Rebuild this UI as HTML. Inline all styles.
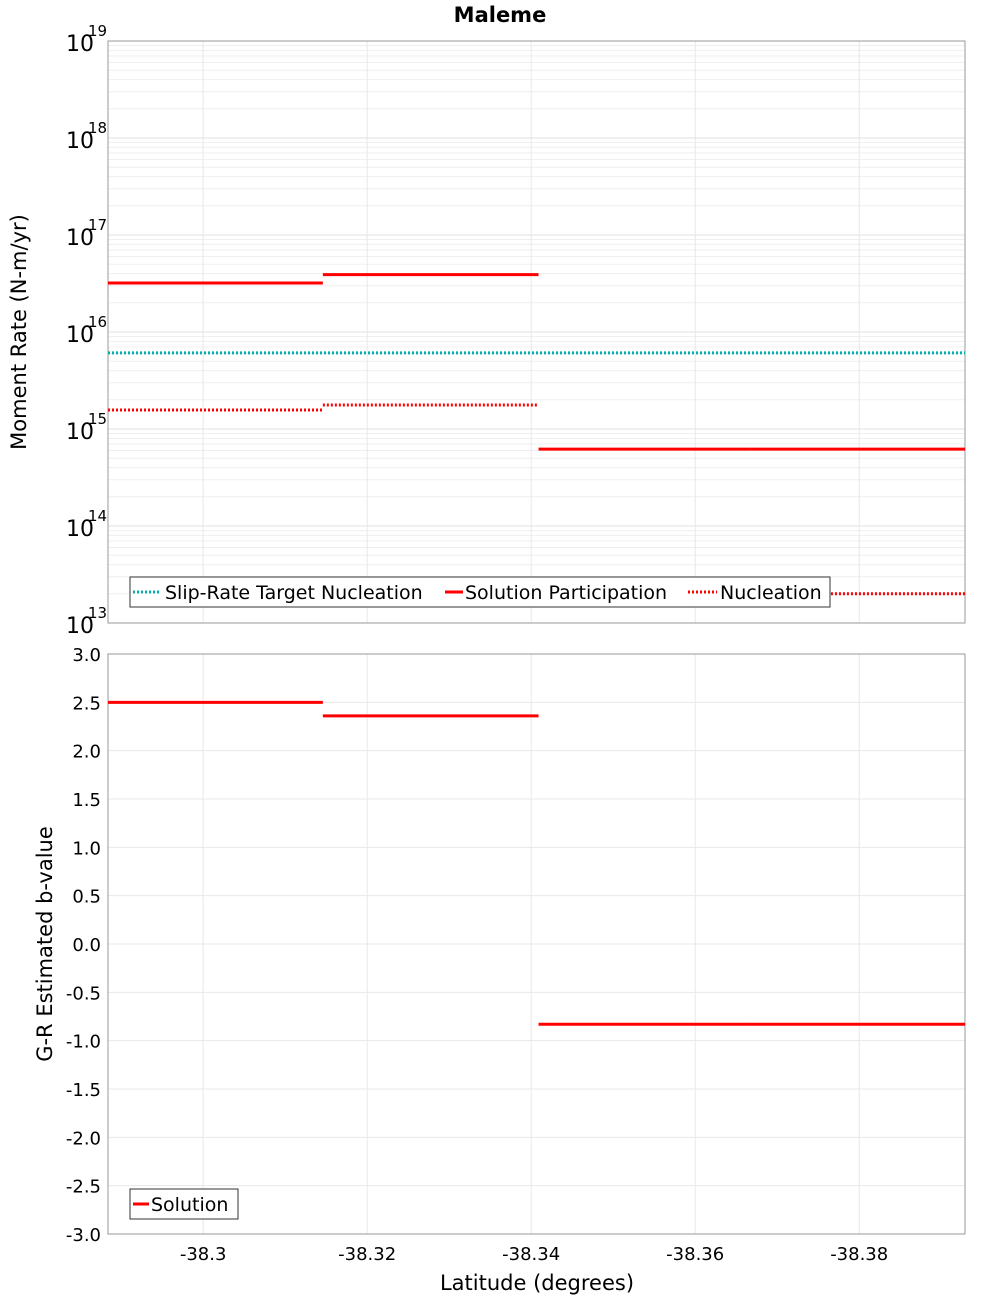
<!DOCTYPE html>
<html><head><meta charset="utf-8"><style>
body{margin:0;background:#fff;font-family:"Liberation Sans","DejaVu Sans",sans-serif}
svg text{font-family:"DejaVu Sans","Liberation Sans",sans-serif}
</style></head><body>
<svg id="c" width="1000" height="1300" xmlns="http://www.w3.org/2000/svg"></svg>
<script>
const segBounds = [-38.2884, -38.3146, -38.3409, -38.3668, -38.3929];
const partVals = [3.2e16, 3.9e16, 6.2e14, 6.2e14];
const nuclVals = [1.57e15, 1.77e15, 2.0e13, 2.0e13];
const targetVal = 6.1e15;
const bVals = [2.5, 2.36, -0.83, -0.83];
const xTicks = [-38.3, -38.32, -38.34, -38.36, -38.38];
const xTickLabels = ["-38.3", "-38.32", "-38.34", "-38.36", "-38.38"];
const bTicks = [3,2.5,2,1.5,1,0.5,0,-0.5,-1,-1.5,-2,-2.5,-3];
const logExps = [13,14,15,16,17,18,19];

const svg = document.getElementById('c');
const NS = 'http://www.w3.org/2000/svg';
function el(tag, attrs, parent){const e=document.createElementNS(NS,tag);for(const k in attrs)e.setAttribute(k,attrs[k]);(parent||svg).appendChild(e);return e;}
const L=108,R=965,T1=41,B1=623,T2=654,B2=1234;
const xMin=segBounds[0], xMax=segBounds[segBounds.length-1];
const X = v => L + (v - xMin)/(xMax - xMin)*(R-L);
const Y1 = v => B1 - (Math.log10(v)-13)/6*(B1-T1);
const Y2 = v => B2 - (v+3)/6*(B2-T2);

// title
let t=el('text',{x:500,y:22,'text-anchor':'middle','font-size':21,'font-weight':'bold'});t.textContent='Maleme';



// top plot grid
for(let e=13;e<19;e++){for(let m=1;m<10;m++){const y=Y1(m*Math.pow(10,e));
 const g=el('line',{x1:L,x2:R,y1:y,y2:y,stroke:m===1?'#e0e0e0':'#efefef','stroke-width':1});
 
 }}
xTicks.forEach(v=>{const g=el('line',{x1:X(v),x2:X(v),y1:T1,y2:B1,stroke:'#e8e8e8'});
 
 
 const g2=el('line',{x1:X(v),x2:X(v),y1:T2,y2:B2,stroke:'#e8e8e8'});
 
 });
bTicks.forEach(v=>{const g=el('line',{x1:L,x2:R,y1:Y2(v),y2:Y2(v),stroke:'#e8e8e8'});
 
 });

// frames
let f1=el('rect',{x:L,y:T1,width:R-L,height:B1-T1,fill:'none',stroke:'#999'});


let f2=el('rect',{x:L,y:T2,width:R-L,height:B2-T2,fill:'none',stroke:'#999'});



// top y ticks
logExps.forEach(e=>{const y=Y1(Math.pow(10,e));
 const tx=el('text',{x:66,y:y+10,'text-anchor':'start','font-size':22});tx.textContent='10';
 
 
 const s=el('text',{x:88,y:y-5,'font-size':15});s.textContent=String(e);
 
 });
let yt=el('text',{x:26,y:332,'text-anchor':'middle','font-size':21,transform:'rotate(-90 26 332)'});yt.textContent='Moment Rate (N-m/yr)';



// bottom y ticks
bTicks.forEach(v=>{const tx=el('text',{x:101,y:Y2(v)+7,'text-anchor':'end','font-size':18});tx.textContent=v.toFixed(1);
 
 });
let yt2=el('text',{x:52,y:944,'text-anchor':'middle','font-size':21,transform:'rotate(-90 52 944)'});yt2.textContent='G-R Estimated b-value';



// x ticks
xTicks.forEach((v,i)=>{const tx=el('text',{x:X(v),y:1260,'text-anchor':'middle','font-size':18});tx.textContent=xTickLabels[i];
 
 });
let xt=el('text',{x:537,y:1290,'text-anchor':'middle','font-size':21});xt.textContent='Latitude (degrees)';



// series
let tl=el('line',{x1:L,x2:R,y1:Y1(targetVal),y2:Y1(targetVal),stroke:'#00b0b0','stroke-width':3,'stroke-dasharray':'2 2'});


for(let i=0;i<partVals.length;i++){
 const x1=X(segBounds[i]),x2=X(segBounds[i+1]);
 const p=el('line',{x1:x1,x2:x2,y1:Y1(partVals[i]),y2:Y1(partVals[i]),stroke:'#f00','stroke-width':3});
 
 
 const n=el('line',{x1:x1,x2:x2,y1:Y1(nuclVals[i]),y2:Y1(nuclVals[i]),stroke:'#f00','stroke-width':3,'stroke-dasharray':'2 2'});
 
 
 const b=el('line',{x1:x1,x2:x2,y1:Y2(bVals[i]),y2:Y2(bVals[i]),stroke:'#f00','stroke-width':3});
 
 
}

// legends
let lg=el('g',{});


el('rect',{x:130,y:577,width:700,height:30,fill:'#fff',stroke:'#333'},lg);
el('line',{x1:133,x2:161,y1:592,y2:592,stroke:'#00b0b0','stroke-width':3,'stroke-dasharray':'2 2'},lg);
let a=el('text',{x:165,y:599,'font-size':19},lg);a.textContent='Slip-Rate Target Nucleation';
el('line',{x1:445,x2:463,y1:592,y2:592,stroke:'#f00','stroke-width':3},lg);
a=el('text',{x:465,y:599,'font-size':19},lg);a.textContent='Solution Participation';
el('line',{x1:688,x2:717,y1:592,y2:592,stroke:'#f00','stroke-width':3,'stroke-dasharray':'2 2'},lg);
a=el('text',{x:720,y:599,'font-size':19},lg);a.textContent='Nucleation';
let lg2=el('g',{});


el('rect',{x:130,y:1189,width:108,height:30,fill:'#fff',stroke:'#333'},lg2);
el('line',{x1:133,x2:149,y1:1204,y2:1204,stroke:'#f00','stroke-width':3},lg2);
a=el('text',{x:151,y:1211,'font-size':19},lg2);a.textContent='Solution';
</script>
</body></html>
